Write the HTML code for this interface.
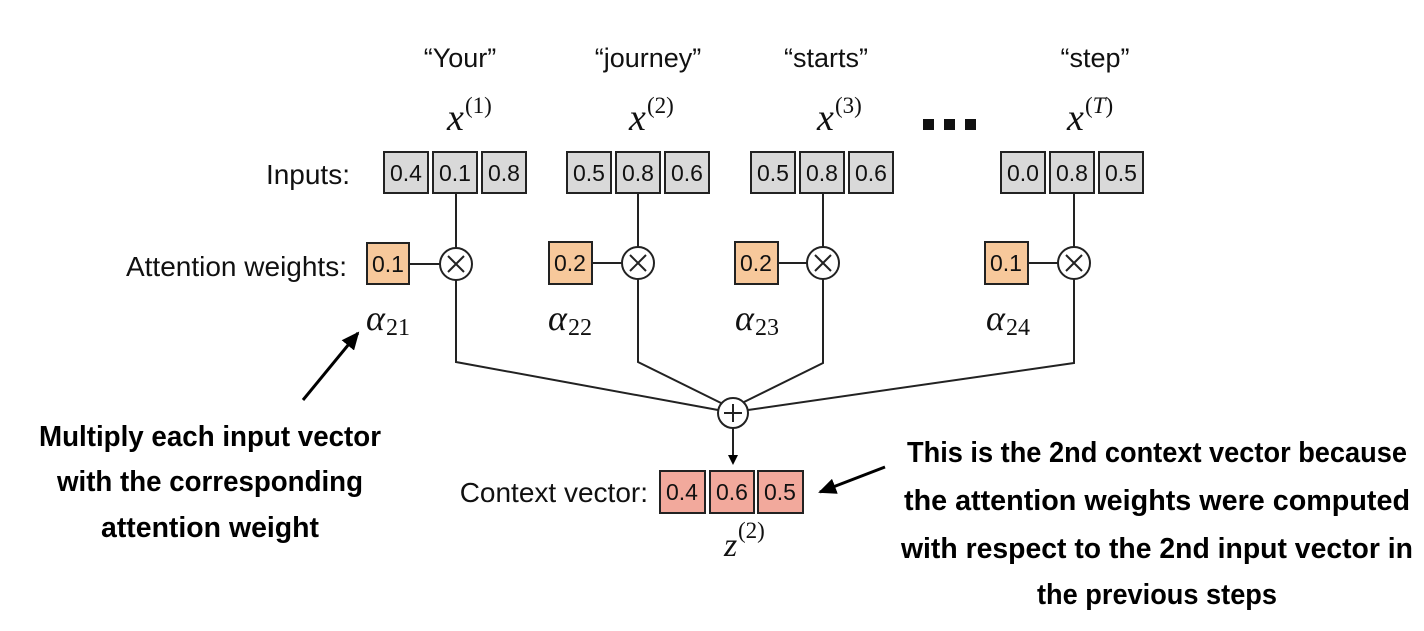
<!DOCTYPE html>
<html><head><meta charset="utf-8"><style>
html,body{margin:0;padding:0;background:#fff;}
svg{display:block;}
.l{font-family:"Liberation Sans",sans-serif;fill:#111;}
.b{font-family:"Liberation Sans Narrow","Liberation Sans",sans-serif;font-weight:bold;fill:#000;font-size:29px;}
.m{font-family:"Liberation Serif",serif;font-style:italic;fill:#111;}
.s{font-family:"Liberation Serif",serif;fill:#111;}
</style></head><body>
<svg width="1424" height="631" viewBox="0 0 1424 631" xmlns="http://www.w3.org/2000/svg">
<defs><marker id="ah" markerWidth="10" markerHeight="10" refX="8" refY="5" orient="auto" markerUnits="userSpaceOnUse"><path d="M0,0 L10,5 L0,10 z" fill="#000"/></marker>
<marker id="ah2" markerWidth="18" markerHeight="16" refX="16" refY="8" orient="auto" markerUnits="userSpaceOnUse"><path d="M0,0 L18,8 L0,16 z" fill="#000"/></marker></defs>

<g class="l" font-size="27" text-anchor="middle">
<text x="460" y="67">“Your”</text>
<text x="648" y="67">“journey”</text>
<text x="826" y="67">“starts”</text>
<text x="1095" y="67">“step”</text>
</g>
<g>
<text class="m" x="447" y="130" font-size="38">x</text><text class="s" x="465" y="113" font-size="23">(1)</text>
<text class="m" x="629" y="130" font-size="38">x</text><text class="s" x="647" y="113" font-size="23">(2)</text>
<text class="m" x="817" y="130" font-size="38">x</text><text class="s" x="835" y="113" font-size="23">(3)</text>
<text class="m" x="1067" y="130" font-size="38">x</text><text class="s" x="1085" y="113" font-size="23">(<tspan font-style="italic">T</tspan>)</text>
</g>
<g fill="#111"><rect x="923" y="119" width="11" height="11"/><rect x="944" y="119" width="11" height="11"/><rect x="965" y="119" width="11" height="11"/></g>

<text class="l" x="350" y="184" font-size="28" text-anchor="end">Inputs:</text>
<text class="l" x="347" y="276" font-size="28" text-anchor="end">Attention weights:</text>
<text class="l" x="648" y="502" font-size="28" text-anchor="end">Context vector:</text>

<g stroke="#222" stroke-width="2" fill="#d9d9d9">
<rect x="384" y="152" width="44" height="41"/><rect x="433" y="152" width="44" height="41"/><rect x="482" y="152" width="44" height="41"/>
<rect x="567" y="152" width="44" height="41"/><rect x="616" y="152" width="44" height="41"/><rect x="665" y="152" width="44" height="41"/>
<rect x="751" y="152" width="44" height="41"/><rect x="800" y="152" width="44" height="41"/><rect x="849" y="152" width="44" height="41"/>
<rect x="1001" y="152" width="44" height="41"/><rect x="1050" y="152" width="44" height="41"/><rect x="1099" y="152" width="44" height="41"/>
</g>
<g class="l" font-size="23" text-anchor="middle">
<text x="406" y="181">0.4</text><text x="455" y="181">0.1</text><text x="504" y="181">0.8</text>
<text x="589" y="181">0.5</text><text x="638" y="181">0.8</text><text x="687" y="181">0.6</text>
<text x="773" y="181">0.5</text><text x="822" y="181">0.8</text><text x="871" y="181">0.6</text>
<text x="1023" y="181">0.0</text><text x="1072" y="181">0.8</text><text x="1121" y="181">0.5</text>
</g>

<g stroke="#222" stroke-width="2" fill="#f7c89b">
<rect x="367" y="243" width="42" height="41"/><rect x="549" y="242" width="43" height="42"/>
<rect x="735" y="242" width="43" height="42"/><rect x="985" y="242" width="43" height="42"/>
</g>
<g class="l" font-size="23" text-anchor="middle">
<text x="388" y="272">0.1</text><text x="570" y="271">0.2</text><text x="756" y="271">0.2</text><text x="1006" y="271">0.1</text>
</g>

<g stroke="#222" stroke-width="2" fill="none">
<line x1="456" y1="193" x2="456" y2="248"/><line x1="638" y1="193" x2="638" y2="248"/><line x1="823" y1="193" x2="823" y2="248"/><line x1="1074" y1="193" x2="1074" y2="248"/>
<line x1="409" y1="264" x2="440" y2="264"/><line x1="592" y1="263" x2="622" y2="263"/><line x1="778" y1="263" x2="807" y2="263"/><line x1="1028" y1="263" x2="1058" y2="263"/>
<circle cx="456" cy="264" r="16" fill="#fff"/><circle cx="638" cy="263" r="16" fill="#fff"/><circle cx="823" cy="263" r="16" fill="#fff"/><circle cx="1074" cy="263" r="16" fill="#fff"/>
<path d="M448,256 l16,16 M464,256 l-16,16 M630,255 l16,16 M646,255 l-16,16 M815,255 l16,16 M831,255 l-16,16 M1066,255 l16,16 M1082,255 l-16,16"/>
<polyline points="456,280 456,362 718,410"/>
<polyline points="638,279 638,362 721,403"/>
<polyline points="823,279 823,363 744,402"/>
<polyline points="1074,279 1074,363 748,410"/>
<circle cx="733" cy="413" r="15" fill="#fff"/>
<path d="M724,413 h18 M733,404 v18"/>
<line x1="733" y1="428" x2="733" y2="463" marker-end="url(#ah)"/>
</g>

<g stroke="#222" stroke-width="2" fill="#f2a99c">
<rect x="660" y="471" width="45" height="42"/><rect x="710" y="471" width="44" height="42"/><rect x="758" y="471" width="45" height="42"/>
</g>
<g class="l" font-size="23" text-anchor="middle">
<text x="682" y="500">0.4</text><text x="732" y="500">0.6</text><text x="780" y="500">0.5</text>
</g>
<text class="m" x="724" y="556" font-size="34">z</text><text class="s" x="738" y="538" font-size="23">(2)</text>

<text class="m" x="366" y="330" font-size="36">α</text><text class="s" x="386" y="335" font-size="24">21</text>
<text class="m" x="548" y="330" font-size="36">α</text><text class="s" x="568" y="335" font-size="24">22</text>
<text class="m" x="735" y="330" font-size="36">α</text><text class="s" x="755" y="335" font-size="24">23</text>
<text class="m" x="986" y="330" font-size="36">α</text><text class="s" x="1006" y="335" font-size="24">24</text>

<g stroke="#000" stroke-width="3">
<line x1="303" y1="400" x2="358" y2="333" marker-end="url(#ah2)"/>
<line x1="885" y1="467" x2="820" y2="492" marker-end="url(#ah2)"/>
</g>

<g class="b" text-anchor="middle">
<text x="210" y="446" textLength="342" lengthAdjust="spacingAndGlyphs">Multiply each input vector</text>
<text x="210" y="491" textLength="306" lengthAdjust="spacingAndGlyphs">with the corresponding</text>
<text x="210" y="537" textLength="218" lengthAdjust="spacingAndGlyphs">attention weight</text>
<text x="1157" y="462" textLength="500" lengthAdjust="spacingAndGlyphs">This is the 2nd context vector because</text>
<text x="1157" y="510" textLength="506" lengthAdjust="spacingAndGlyphs">the attention weights were computed</text>
<text x="1157" y="558" textLength="512" lengthAdjust="spacingAndGlyphs">with respect to the 2nd input vector in</text>
<text x="1157" y="604" textLength="240" lengthAdjust="spacingAndGlyphs">the previous steps</text>
</g>
</svg>
</body></html>
